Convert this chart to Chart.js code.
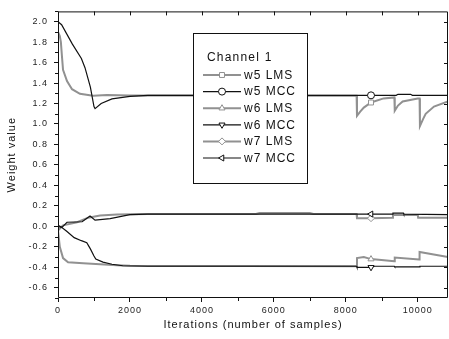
<!DOCTYPE html>
<html>
<head>
<meta charset="utf-8">
<script src="https://cdn.jsdelivr.net/npm/chart.js@4.4.1/dist/chart.umd.min.js"></script>
<style>
  body { margin: 0; background: #fff; }
  #chart { display: block; }
</style>
</head>
<body>
<canvas id="chart" width="449" height="339"></canvas>
<script>
// series data (x = iteration, y = weight value)
const w5LmsX = [0, 50, 80, 110, 140, 250, 390, 610, 975, 1360, 2000, 8300, 8310, 8400, 8500, 8700, 9050, 9350, 9360, 9450, 9580, 10000, 10050, 10060, 10150, 10220, 10450, 10840];
const w5LmsY = [1.90, 1.86, 1.80, 1.66, 1.53, 1.42, 1.34, 1.295, 1.276, 1.283, 1.278, 1.275, 1.08, 1.12, 1.16, 1.21, 1.25, 1.26, 1.13, 1.18, 1.22, 1.25, 1.25, 0.98, 1.05, 1.10, 1.17, 1.22];

const w5MccX = [0, 100, 400, 650, 750, 900, 1000, 1030, 1200, 1500, 2000, 2500, 8700, 9400, 9450, 9800, 9850, 10840];
const w5MccY = [2.0, 1.97, 1.78, 1.64, 1.55, 1.36, 1.17, 1.15, 1.20, 1.245, 1.27, 1.28, 1.28, 1.28, 1.29, 1.29, 1.28, 1.28];

const w6LmsX = [0, 50, 140, 280, 700, 1170, 1640, 2000, 8300, 8310, 8500, 8700, 9350, 9360, 10040, 10050, 10840];
const w6LmsY = [-0.04, -0.20, -0.31, -0.35, -0.36, -0.37, -0.38, -0.385, -0.39, -0.31, -0.30, -0.32, -0.34, -0.305, -0.325, -0.25, -0.30];

const w6MccX = [0, 100, 250, 450, 650, 800, 900, 1000, 1050, 1250, 1500, 1800, 2500, 8300, 8310, 8700, 8800, 9350, 9360, 10050, 10060, 10840];
const w6MccY = [0.0, -0.01, -0.05, -0.11, -0.14, -0.16, -0.22, -0.29, -0.32, -0.35, -0.37, -0.385, -0.39, -0.39, -0.40, -0.40, -0.39, -0.39, -0.395, -0.395, -0.39, -0.39];

const w7LmsX = [0, 140, 530, 840, 1170, 1640, 2500, 5500, 5600, 7000, 7100, 8300, 8310, 8700, 9300, 9310, 10000, 10010, 10840];
const w7LmsY = [-0.04, 0.01, 0.04, 0.085, 0.105, 0.115, 0.12, 0.12, 0.13, 0.13, 0.12, 0.12, 0.08, 0.08, 0.085, 0.11, 0.11, 0.085, 0.085];

const w7MccX = [0, 110, 250, 670, 890, 1030, 1450, 2000, 2500, 8700, 9300, 9310, 9600, 9610, 10840];
const w7MccY = [0.01, -0.01, 0.04, 0.045, 0.10, 0.06, 0.075, 0.115, 0.12, 0.12, 0.12, 0.13, 0.13, 0.12, 0.115];

const seriesLabels = ['w5 LMS', 'w5 MCC', 'w6 LMS', 'w6 MCC', 'w7 LMS', 'w7 MCC'];
const xTicks = [0, 2000, 4000, 6000, 8000, 10000];
const yTicks = [-0.6, -0.4, -0.2, 0.0, 0.2, 0.4, 0.6, 0.8, 1.0, 1.2, 1.4, 1.6, 1.8, 2.0];
const markerAt = 8700;

const GRAY = 'rgb(145,145,145)';
const BLACK = '#111';
const FONT = "'Liberation Sans', Arial, sans-serif";

function pts(xs, ys) {
    return xs.map((x, i) => ({ x: x, y: ys[i] }));
}

function makeSet(label, xs, ys, color, width, style, rot, order) {
    return {
        label: label,
        data: pts(xs, ys),
        borderColor: color,
        borderWidth: width,
        pointStyle: style,
        pointRotation: rot,
        pointBackgroundColor: '#fff',
        pointBorderColor: color,
        pointBorderWidth: 1,
        pointRadius: ctx => (ctx.raw && ctx.raw.x === markerAt ? 3.5 : 0),
        tension: 0,
        order: order
    };
}

const datasets = [
    makeSet(seriesLabels[0], w5LmsX, w5LmsY, GRAY, 2, 'rect', 0, 1),
    makeSet(seriesLabels[1], w5MccX, w5MccY, BLACK, 1.2, 'circle', 0, 0),
    makeSet(seriesLabels[2], w6LmsX, w6LmsY, GRAY, 2, 'triangle', 0, 1),
    makeSet(seriesLabels[3], w6MccX, w6MccY, BLACK, 1.2, 'triangle', 180, 0),
    makeSet(seriesLabels[4], w7LmsX, w7LmsY, GRAY, 2, 'rectRot', 0, 1),
    makeSet(seriesLabels[5], w7MccX, w7MccY, BLACK, 1.2, 'triangle', -90, 0)
];

// frame, minor ticks and mirrored ticks on top/right
const framePlugin = {
    id: 'frame',
    beforeDraw(chart) {
        chart.ctx.letterSpacing = '1px';
    },
    afterDraw(chart) {
        const { ctx, chartArea: a } = chart;
        const x = chart.scales.x, y = chart.scales.y;
        ctx.save();
        ctx.strokeStyle = BLACK;
        ctx.lineWidth = 1;
        ctx.beginPath();
        ctx.rect(a.left + 0.5, a.top + 0.5, a.right - a.left - 1, a.bottom - a.top - 1);
        ctx.stroke();
        ctx.beginPath();
        for (let k = -7; k <= 21; k++) {
            const py = Math.round(y.getPixelForValue(k / 10)) + 0.5;
            if (k % 2 !== 0) {
                ctx.moveTo(a.left - 3, py); ctx.lineTo(a.left, py);
            } else {
                ctx.moveTo(a.right - 4, py); ctx.lineTo(a.right, py);
            }
        }
        for (let v = 0; v <= 10000; v += 1000) {
            const px = Math.round(x.getPixelForValue(v)) + 0.5;
            ctx.moveTo(px, a.top); ctx.lineTo(px, a.top + 4);
            if (v % 2000 !== 0) {
                ctx.moveTo(px, a.bottom); ctx.lineTo(px, a.bottom + 3);
            }
        }
        ctx.stroke();
        ctx.restore();
    }
};

// legend box drawn inside the plot
const legendBox = {
    id: 'legendBox',
    afterDatasetsDraw(chart) {
        const ctx = chart.ctx;
        const bx = 193, by = 33, bw = 114, bh = 150;
        ctx.save();
        ctx.fillStyle = '#fff';
        ctx.fillRect(bx, by, bw, bh);
        ctx.strokeStyle = BLACK;
        ctx.lineWidth = 1;
        ctx.strokeRect(bx + 0.5, by + 0.5, bw, bh);
        ctx.font = '12px ' + FONT;
        ctx.letterSpacing = '1.2px';
        ctx.fillStyle = '#111';
        ctx.textBaseline = 'middle';
        ctx.textAlign = 'left';
        ctx.fillText('Channel 1', 207, 58);
        ctx.letterSpacing = '1px';
        chart.data.datasets.forEach((ds, i) => {
            const cy = 75 + i * 16.6;
            ctx.strokeStyle = ds.borderColor;
            ctx.lineWidth = ds.borderWidth;
            ctx.beginPath();
            ctx.moveTo(203, cy);
            ctx.lineTo(241, cy);
            ctx.stroke();
            ctx.fillStyle = '#fff';
            ctx.strokeStyle = ds.borderColor;
            ctx.lineWidth = 1;
            Chart.helpers.drawPoint(ctx, {
                pointStyle: ds.pointStyle,
                rotation: ds.pointRotation,
                radius: 3.5,
                borderWidth: 1
            }, 222, cy);
            ctx.fillStyle = '#111';
            ctx.fillText(ds.label, 244, cy + 0.5);
        });
        ctx.restore();
    }
};

new Chart(document.getElementById('chart'), {
    type: 'line',
    data: { datasets: datasets },
    options: {
        responsive: false,
        animation: false,
        layout: { padding: { top: 4, right: 1, left: 0, bottom: 0 } },
        plugins: {
            legend: { display: false },
            tooltip: { enabled: false }
        },
        scales: {
            x: {
                type: 'linear',
                min: 0,
                max: 10840,
                afterFit: s => { s.height = 41; },
                afterBuildTicks: s => { s.ticks = xTicks.map(v => ({ value: v })); },
                border: { display: false },
                grid: { drawOnChartArea: false, drawTicks: true, tickLength: 4, color: BLACK },
                ticks: {
                    color: '#222',
                    padding: 3,
                    maxRotation: 0,
                    font: { family: FONT, size: 9 },
                    callback: v => String(v)
                },
                title: {
                    display: true,
                    text: 'Iterations (number of samples)',
                    color: '#111',
                    font: { family: FONT, size: 11 },
                    padding: { top: 0, bottom: 7 }
                }
            },
            y: {
                min: -0.7,
                max: 2.1,
                afterFit: s => { s.width = 58; },
                afterBuildTicks: s => { s.ticks = yTicks.map(v => ({ value: v })); },
                border: { display: false },
                grid: { drawOnChartArea: false, drawTicks: true, tickLength: 4, color: BLACK },
                ticks: {
                    color: '#222',
                    padding: 6,
                    font: { family: FONT, size: 9 },
                    callback: v => v.toFixed(1)
                },
                title: {
                    display: true,
                    text: 'Weight value',
                    color: '#111',
                    font: { family: FONT, size: 11 },
                    padding: { top: 5, bottom: 0 }
                }
            }
        }
    },
    plugins: [framePlugin, legendBox]
});
</script>
</body>
</html>
